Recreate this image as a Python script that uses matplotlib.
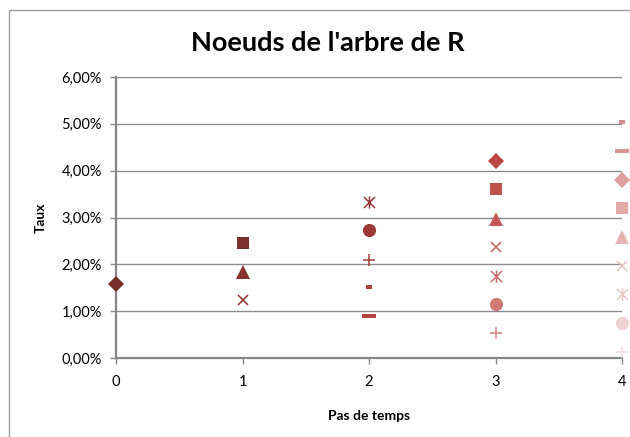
import numpy as np
import matplotlib
matplotlib.use("Agg")
import matplotlib.pyplot as plt
from matplotlib.path import Path
from matplotlib.ticker import FuncFormatter
from matplotlib.patches import Rectangle

plt.rcParams['font.family'] = ['Lato', 'DejaVu Sans']

# rates (%) of each node, per time step, top to bottom
steps = [0, 1, 2, 3, 4]
step0 = [1.58]
step1 = [2.46, 1.83, 1.24]
step2 = [3.34, 2.73, 2.10, 1.51, 0.89]
step3 = [4.21, 3.61, 2.97, 2.38, 1.76, 1.15, 0.54]
step4 = [5.03, 4.43, 3.81, 3.20, 2.58, 1.97, 1.36, 0.75, 0.13]
nodes = [step0, step1, step2, step3, step4]

yticks = [0, 1, 2, 3, 4, 5, 6]

colors = ['#772C2A', '#7E2F2D', '#87322F', '#8E3432', '#953735', '#9C3A38',
          '#A33D3B', '#AA403E', '#B14441', '#B94845', '#C0504D', '#C45A57',
          '#C86461', '#CC6E6B', '#D07875', '#D4827F', '#D88C89', '#DB9693',
          '#DEA09E', '#E1AAA8', '#E4B4B2', '#E7BEBC', '#EAC8C6', '#EDD2D0',
          '#F0DCDB']

star = Path([(-1, -1), (1, 1), (-1, 1), (1, -1), (0, -1.1), (0, 1.1)],
            [Path.MOVETO, Path.LINETO, Path.MOVETO, Path.LINETO, Path.MOVETO, Path.LINETO])


def rect(w, h):
    return Path([(-w, -h), (w, -h), (w, h), (-w, h), (-w, -h)],
                [Path.MOVETO, Path.LINETO, Path.LINETO, Path.LINETO, Path.CLOSEPOLY])


# (marker, size, filled)
markers = [('D', 7.8, True), ('s', 8.2, True), ('^', 9.5, True), ('x', 7.8, False),
           (star, 8.8, False), ('o', 9.5, True), ('+', 8.8, False),
           (rect(1, 0.45), 5.0, True), (rect(1, 0.23), 9.5, True)]

fig = plt.figure(figsize=(6.3, 4.37), dpi=100)
ax = fig.add_axes([116 / 630, 1 - 358 / 437, 506 / 630, 281 / 437])

k = 0
for s, vals in zip(steps, nodes):
    for v in vals:
        m, ms, filled = markers[k % len(markers)]
        if filled:
            ax.plot([s], [v], linestyle='none', marker=m, markersize=ms,
                    color=colors[k], markeredgewidth=0, clip_on=False, zorder=3)
        else:
            ax.plot([s], [v], linestyle='none', marker=m, markersize=ms,
                    color=colors[k], markeredgewidth=1.1, clip_on=False, zorder=3)
        k += 1

ax.set_xlim(0, 4)
ax.set_ylim(0, 6)
ax.set_xticks(steps)
ax.set_yticks(yticks)
ax.yaxis.set_major_formatter(FuncFormatter(lambda v, p: f"{v:.2f}".replace('.', ',') + '%'))
ax.grid(axis='y', color='#8C8C8C', linewidth=1.0)
ax.set_axisbelow(True)
for sp in ['top', 'right']:
    ax.spines[sp].set_visible(False)
for sp in ['left', 'bottom']:
    ax.spines[sp].set_color('#868686')
    ax.spines[sp].set_linewidth(1.6)
ax.tick_params(colors='#868686', length=4, width=1, labelsize=10.5, labelcolor='black')
ax.tick_params(axis='x', pad=8)
ax.tick_params(axis='y', pad=6)

ax.set_xlabel('Pas de temps', fontsize=10, fontweight='bold', labelpad=15)
ax.set_ylabel('Taux', fontsize=10, fontweight='bold', labelpad=11)
fig.text(328 / 630, 1 - 43 / 437, "Noeuds de l'arbre de R", fontsize=19.5,
         fontweight='bold', ha='center', va='center')

fig.patches.append(Rectangle((8.5 / 630, -0.1), 2, 1.1 - 10.5 / 437, transform=fig.transFigure,
                             fill=False, edgecolor='#9A9A9A', linewidth=1.0))

fig.savefig('out.png', dpi=100)
